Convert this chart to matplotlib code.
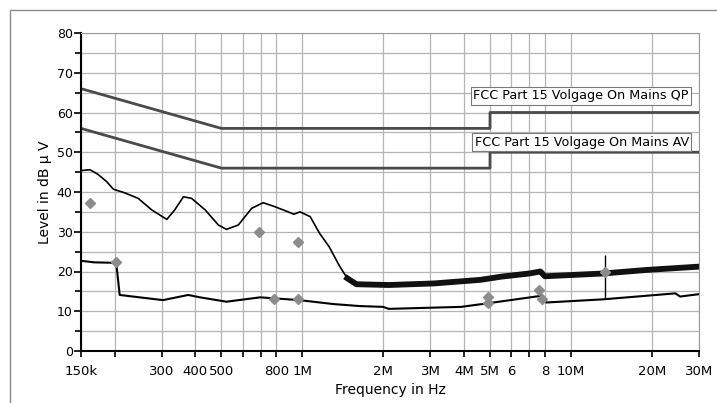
import matplotlib
matplotlib.use('Agg')
import matplotlib.pyplot as plt
from matplotlib.patches import Rectangle
import numpy as np

# Messkurven (Frequenz in Hz, Pegel in dBuV)
qp_freq = [150e3, 162e3, 173e3, 187e3, 198e3, 218e3, 245e3, 275e3, 313e3, 335e3,
           361e3, 387e3, 435e3, 487e3, 522e3, 578e3, 648e3, 715e3, 791e3, 886e3,
           930e3, 980e3, 1.07e6, 1.16e6, 1.26e6, 1.37e6, 1.47e6, 1.59e6, 2.1e6, 3.1e6,
           4.6e6, 5.5e6, 7.0e6, 7.7e6, 8.0e6, 13.2e6, 19.2e6, 29.6e6]
qp_level = [45.4, 45.6, 44.5, 42.6, 40.7, 39.8, 38.4, 35.5, 33.1, 35.5,
            38.8, 38.4, 35.5, 31.7, 30.6, 31.7, 35.9, 37.3, 36.3, 35.0,
            34.4, 35.0, 33.8, 29.6, 26.2, 21.6, 18.3, 16.8, 16.6, 17.0,
            17.9, 18.7, 19.5, 20.0, 18.8, 19.5, 20.4, 21.2]

av_freq = [150e3, 168e3, 196e3, 203e3, 209e3, 234e3, 303e3, 376e3, 416e3, 522e3,
           697e3, 975e3, 1.31e6, 1.64e6, 2.0e6, 2.1e6, 3.9e6, 4.9e6, 7.6e6, 7.8e6,
           8.1e6, 13.2e6, 24.5e6, 25.5e6, 30e6]
av_level = [22.7, 22.3, 22.2, 22.0, 14.1, 13.7, 12.8, 14.1, 13.5, 12.4,
            13.5, 12.8, 11.8, 11.3, 11.1, 10.6, 11.1, 12.0, 13.8, 14.0,
            12.2, 13.0, 14.5, 13.7, 14.3]

# Grenzwerte FCC Part 15
lim_freq = [150e3, 500e3, 5e6, 5e6, 30e6]
lim_qp = [66, 56, 56, 60, 60]
lim_av = [56, 46, 46, 50, 50]

# Einzelmesswerte (Rauten)
pts_freq = [162e3, 690e3, 965e3, 13.4e6, 202e3, 786e3, 965e3, 4.9e6, 4.9e6, 7.6e6, 7.8e6]
pts_level = [37.2, 30.0, 27.4, 19.9, 22.4, 13.1, 13.1, 13.7, 12.2, 15.3, 13.2]

tick_freq = [150e3, 200e3, 300e3, 400e3, 500e3, 600e3, 700e3, 800e3, 1e6,
             2e6, 3e6, 4e6, 5e6, 6e6, 7e6, 8e6, 10e6, 20e6, 30e6]
tick_text = ['150k', '', '300', '400', '500', '', '', '800', '1M',
             '2M', '3M', '4M', '5M', '6', '', '8', '10M', '20M', '30M']

fig = plt.figure(figsize=(7.17, 4.03), dpi=100)
ax = fig.add_axes([81/717, 1-351/403, 618/717, 318/403])

grid_c = '#b5b5b5'
ax.set_xscale('log')
ax.set_xlim(150e3, 30e6)
ax.set_ylim(0, 80)
ax.set_xticks(tick_freq)
ax.set_xticklabels(tick_text, fontsize=9.5)
ax.minorticks_off()
ax.set_yticks(np.arange(0, 81, 10))
ax.set_yticks(np.arange(5, 80, 10), minor=True)
ax.tick_params(axis='y', labelsize=9, length=5, width=1.2, pad=1)
ax.tick_params(axis='y', which='minor', length=4, width=1.2)
ax.tick_params(axis='x', length=4, width=1.2, pad=6)
ax.grid(True, which='both', color=grid_c, lw=0.9)
ax.set_axisbelow(True)
for s in ['left', 'bottom']:
    ax.spines[s].set_linewidth(1.5)
for s in ['top', 'right']:
    ax.spines[s].set_color('#9a9a9a')

ax.plot(lim_freq, lim_qp, color='#4a4a4a', lw=2)
ax.plot(lim_freq, lim_av, color='#4a4a4a', lw=2)

qf = np.array(qp_freq)
ql = np.array(qp_level)
ax.plot(qf, ql, color='black', lw=1.2)
noisy = qf >= 1.47e6
ax.plot(qf[noisy], ql[noisy], color='#111111', lw=4.2, solid_joinstyle='round')
ax.plot(av_freq, av_level, color='black', lw=1.5)

ax.vlines(13.4e6, 13.2, 24.2, color='black', lw=1)
ax.plot(pts_freq, pts_level, linestyle='none', marker='D', markersize=5.5,
        color='#8c8c8c')

box = dict(boxstyle='square,pad=0.2', fc='white', ec='#7a7a7a', lw=0.8)
ax.text(27.5e6, 64.2, 'FCC Part 15 Volgage On Mains QP', fontsize=9.2,
        ha='right', va='center', bbox=box)
ax.text(27.5e6, 52.5, 'FCC Part 15 Volgage On Mains AV', fontsize=9.2,
        ha='right', va='center', bbox=box)

ax.set_xlabel('Frequency in Hz', fontsize=10, labelpad=4)
ax.set_ylabel('Level in dB \u03bc V', fontsize=10, labelpad=3)

fig.patches.append(Rectangle((10/717, -0.05), 1.1, 1-10/403+0.05,
                             transform=fig.transFigure, fill=False,
                             ec='#8a8a8a', lw=1))

fig.savefig('out.png', dpi=100)
